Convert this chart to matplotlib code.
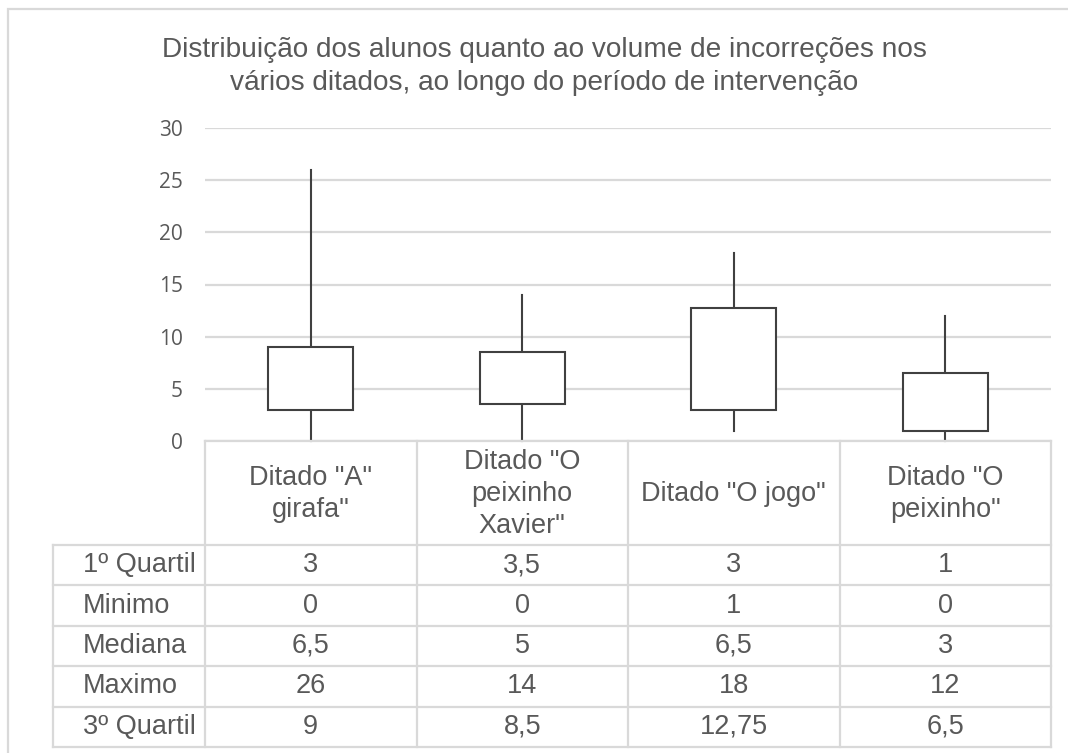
import matplotlib.pyplot as plt
from matplotlib.patches import Rectangle

# dictation names and their five-number summaries
categorias = ['Ditado "A"\ngirafa"', 'Ditado "O\npeixinho\nXavier"',
              'Ditado "O jogo"', 'Ditado "O\npeixinho"']
quartil1 = [3, 3.5, 3, 1]
minimo = [0, 0, 1, 0]
mediana = [6.5, 5, 6.5, 3]
maximo = [26, 14, 18, 12]
quartil3 = [9, 8.5, 12.75, 6.5]

linhas = ['1º Quartil', 'Minimo', 'Mediana', 'Maximo', '3º Quartil']
valores = [quartil1, minimo, mediana, maximo, quartil3]

yticks = [0, 5, 10, 15, 20, 25, 30]
titulo = ['Distribuição dos alunos quanto ao volume de incorreções nos',
          'vários ditados, ao longo do período de intervenção']

W, H = 1068, 753
TXT = '#595959'
GRID = '#d9d9d9'
BOX = '#404040'


def fmt(v):
    return f'{v:g}'.replace('.', ',')


def main():
    fig = plt.figure(figsize=(W / 100, H / 100), dpi=100)

    # outer frame (top and left edges visible)
    frame = fig.add_axes([0, 0, 1, 1])
    frame.set_xlim(0, W)
    frame.set_ylim(H, 0)
    frame.axis('off')
    frame.plot([8, 8, W + 5], [H + 5, 9, 9], color=GRID, lw=1.6,
               solid_joinstyle='miter')

    x0, x1, ytop, yzero, ybot = 205, 1051, 128, 441, 747
    ax = fig.add_axes([x0 / W, 1 - yzero / H, (x1 - x0) / W, (yzero - ytop) / H])
    ax.set_xlim(0, 4)
    ax.set_ylim(0, 30)
    ax.set_yticks(yticks)
    ax.set_xticks([])
    for s in ax.spines.values():
        s.set_visible(False)
    ax.yaxis.grid(True, color=GRID, lw=1.6)
    ax.set_axisbelow(True)
    ax.tick_params(axis='y', length=0, pad=16, labelcolor=TXT, labelsize=15)
    for lab in ax.get_yticklabels():
        lab.set_fontfamily('Open Sans')

    bw = 0.4
    for i in range(len(categorias)):
        c = i + 0.5
        ax.plot([c, c], [minimo[i], maximo[i]], color=BOX, lw=1.5, zorder=2,
                clip_on=False)
        lo, hi = min(quartil1[i], quartil3[i]), max(quartil1[i], quartil3[i])
        ax.add_patch(Rectangle((c - bw / 2, lo), bw, hi - lo, facecolor='white',
                               edgecolor=BOX, lw=1.5, zorder=3))

    for base, linha in zip([57, 90], titulo):
        fig.text(544 / W, 1 - base / H, linha, ha='center', va='baseline',
                 fontsize=20.2, color=TXT, family='Liberation Sans')

    # data table beneath the plot, sharing the category positions
    tab = fig.add_axes([x0 / W, 1 - ybot / H, (x1 - x0) / W, (ybot - yzero) / H])
    tab.set_xlim(0, 4)
    tab.set_ylim(ybot - yzero, 0)
    tab.axis('off')
    head = 104
    rh = (ybot - yzero - head) / len(linhas)
    left = -(x0 - 53) / ((x1 - x0) / 4)
    kw = dict(color=GRID, lw=1.6, clip_on=False, solid_capstyle='projecting')

    tab.plot([0, 4], [0, 0], **kw)
    for k in range(len(linhas) + 1):
        y = head + k * rh
        tab.plot([left, 4], [y, y], **kw)
    for j in range(5):
        tab.plot([j, j], [0, ybot - yzero], **kw)
    tab.plot([left, left], [head, ybot - yzero], **kw)

    tfont = dict(fontsize=19.5, color=TXT, family='Liberation Sans',
                 clip_on=False)
    for j, nome in enumerate(categorias):
        tab.text(j + 0.5, head / 2 + 1, nome, ha='center', va='center',
                 linespacing=1.3, **tfont)
    for k, (rot, vals) in enumerate(zip(linhas, valores)):
        yc = head + (k + 0.5) * rh
        tab.text(left + 0.14, yc, rot, ha='left', va='center', **tfont)
        for j, v in enumerate(vals):
            tab.text(j + 0.5, yc, fmt(v), ha='center', va='center', **tfont)

    fig.savefig('out.png', dpi=100, facecolor='white')


if __name__ == '__main__':
    main()
